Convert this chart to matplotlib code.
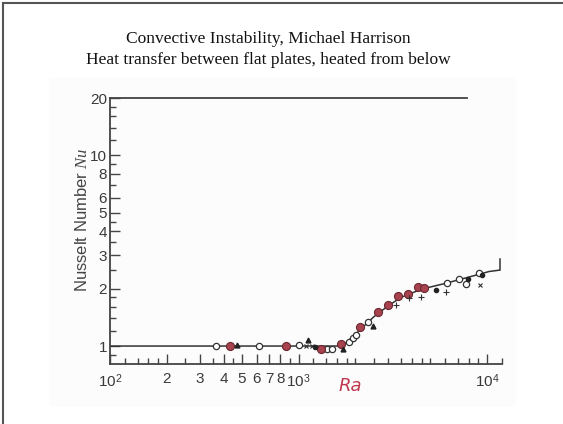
import matplotlib
matplotlib.use("Agg")
from matplotlib import pyplot
from matplotlib.patches import Rectangle
from matplotlib.lines import Line2D

pyplot.rcParams['mathtext.fontset'] = 'custom'
pyplot.rcParams['mathtext.rm'] = 'Liberation Sans'
pyplot.rcParams['mathtext.it'] = 'Liberation Serif:italic'

# data (Ra, Nu)
open_ra = [367, 614, 1004, 1420, 1510, 1860, 1940, 2020, 2330, 6150, 7110, 7760, 9080]
open_nu = [1.0, 1.0, 1.01, 0.97, 0.97, 1.05, 1.10, 1.14, 1.34, 2.15, 2.24, 2.12, 2.41]

red_ra = [435, 853, 1318, 1680, 2128, 2630, 2970, 3350, 3790, 4280, 4640]
red_nu = [1.0, 1.0, 0.97, 1.03, 1.26, 1.51, 1.64, 1.82, 1.88, 2.05, 2.01]

tri_ra = [470, 1120, 1720, 2473]
tri_nu = [1.01, 1.075, 0.97, 1.27]

cross_ra = [1090, 1180, 9200]
cross_nu = [1.0, 1.0, 2.09]

plus_ra = [3290, 3860, 4460, 6045]
plus_nu = [1.64, 1.78, 1.80, 1.93]

dot_ra = [1230, 5350, 7890, 9420]
dot_nu = [0.99, 1.97, 2.26, 2.36]

curve_ra = [100, 1708, 2000, 2500, 3000, 3500, 4500, 6000, 8000, 10250, 11600]
curve_nu = [1.0, 1.0, 1.15, 1.42, 1.63, 1.80, 1.99, 2.13, 2.30, 2.46, 2.50]

xmajor = [100, 200, 300, 400, 500, 600, 700, 800, 1000, 10000]
xmajor_labels = ['10$^2$', '2', '3', '4', '5', '6', '7', '8', '10$^3$', '10$^4$']
xminor = [120, 140, 160, 180, 250, 350, 450, 900,
          1200, 1400, 1600, 1800, 2000, 2500, 3000, 3500, 4000, 4500,
          5000, 6000, 7000, 8000, 9000, 12000]

ymajor = [1, 2, 3, 4, 5, 6, 8, 10, 20]
ymajor_labels = ['1', '2', '3', '4', '5', '6', '8', '10', '20']
yminor = [0.9, 1.2, 1.4, 1.6, 1.8, 2.5, 3.5, 4.5, 7, 9, 12, 14, 16, 18]

W, H = 563, 424
axcol = '#3a3a3a'
fig = pyplot.figure(figsize=(W / 100, H / 100), dpi=100)

# faint scan background + slide frame
fig.patches.append(Rectangle((50 / W, 1 - 405 / H), 465 / W, 327 / H,
                             transform=fig.transFigure, color='#fcfcfc', zorder=-5))
fig.lines.append(Line2D([3 / W, 3 / W], [0, 1 - 3 / H], transform=fig.transFigure,
                        color='#555555', lw=1.5))
fig.lines.append(Line2D([3 / W, 1], [1 - 3 / H, 1 - 3 / H], transform=fig.transFigure,
                        color='#555555', lw=1.5))

ax = fig.add_axes([110 / W, (H - 364) / H, 392 / W, 266 / H])
ax.set_zorder(2)
ax.set_facecolor('none')
ax.set_xscale('log')
ax.set_yscale('log')
ax.set_xlim(100, 12000)
ax.set_ylim(0.805, 20)

ax.plot(curve_ra, curve_nu, color='#333333', lw=1.1, zorder=2)
ax.plot([11700, 11700], [2.5, 2.85], color='#333333', lw=1.1)
ax.axhline(20, xmin=0, xmax=0.91, color='#444444', lw=1.3, clip_on=False)

ax.plot(open_ra, open_nu, 'o', ms=4.5, mfc='white', mec='#333333', mew=0.9, zorder=3)
ax.plot(red_ra, red_nu, 'o', ms=5.8, mfc='#a8424f', mec='#6a2830', mew=0.8, zorder=4)
ax.plot(tri_ra, tri_nu, '^', ms=3.5, color='#222222', zorder=4)
ax.plot(cross_ra, cross_nu, 'x', ms=3.5, color='#333333', mew=0.8, zorder=4)
ax.plot(plus_ra, plus_nu, '+', ms=5, color='#333333', mew=0.8, zorder=4)
ax.plot(dot_ra, dot_nu, 'o', ms=3, color='#222222', zorder=4)

for side in ['top', 'right']:
    ax.spines[side].set_visible(False)
for side in ['left', 'bottom']:
    ax.spines[side].set_color('#444444')
    ax.spines[side].set_linewidth(1.3)

ax.set_xticks(xmajor, xmajor_labels)
ax.set_xticks(xminor, minor=True)
ax.set_yticks(ymajor, ymajor_labels)
ax.set_yticks(yminor, minor=True)
ax.xaxis.set_minor_formatter(matplotlib.ticker.NullFormatter())
ax.yaxis.set_minor_formatter(matplotlib.ticker.NullFormatter())
ax.tick_params(which='major', direction='in', length=7, width=1.0, color='#444444',
               labelcolor=axcol, labelsize=11)
ax.tick_params(which='minor', direction='in', length=4, width=1.0, color='#444444')
ax.tick_params(axis='x', which='major', pad=6)
ax.tick_params(axis='y', which='major', pad=2)
for lab in ax.get_xticklabels() + ax.get_yticklabels():
    lab.set_fontfamily('Liberation Sans')

fig.text(82 / W, 1 - 220 / H, 'Nusselt Number $Nu$', rotation=90, ha='center', va='center',
         fontsize=12, color='#444444', family='Liberation Sans')
fig.text(350 / W, 1 - 386 / H, 'Ra', ha='center', va='center', fontsize=13,
         color='#c0384f', family='DejaVu Sans', style='italic')

fig.text(268 / W, 1 - 43 / H, 'Convective Instability, Michael Harrison', ha='center',
         va='baseline', fontsize=12.5, family='Liberation Serif', color='#111111')
fig.text(268 / W, 1 - 63.5 / H, 'Heat transfer between flat plates, heated from below',
         ha='center', va='baseline', fontsize=12.5, family='Liberation Serif', color='#111111')

fig.savefig('out.png', dpi=100)
